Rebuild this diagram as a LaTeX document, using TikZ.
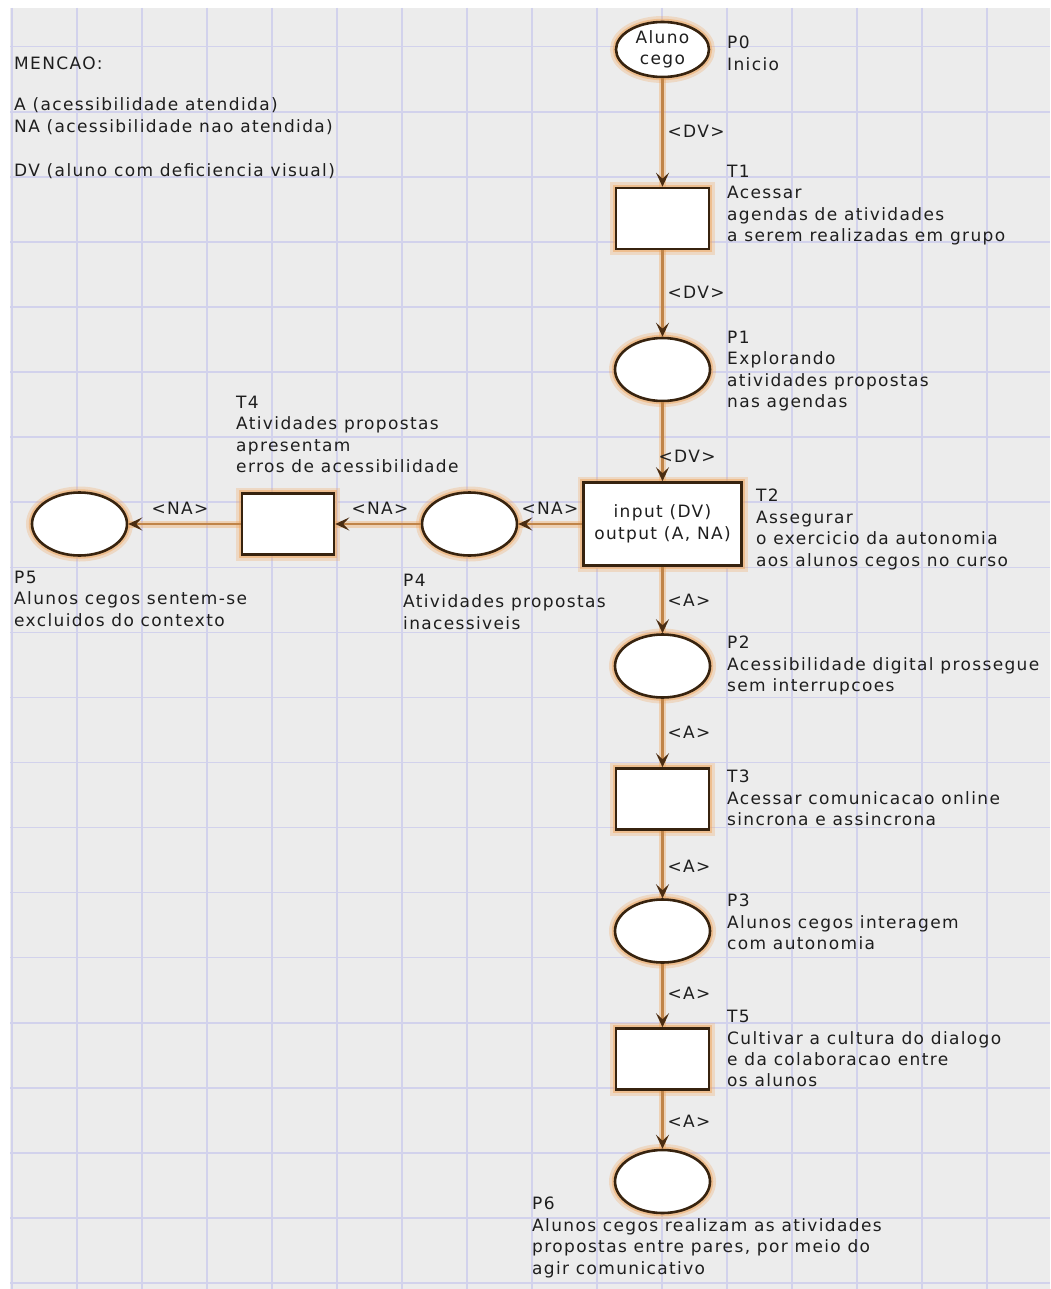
\documentclass[tikz,border=0pt]{standalone}
\usepackage{fontspec}
\setmainfont{DejaVu Sans}[LetterSpace=8]
\usetikzlibrary{arrows.meta,shapes.geometric}
\definecolor{bgc}{RGB}{236,236,236}
\definecolor{gridc}{RGB}{210,210,236}
\definecolor{glowc}{RGB}{240,160,80}
\definecolor{arcc}{RGB}{192,132,72}
\definecolor{tipc}{RGB}{75,45,18}
\definecolor{borderc}{RGB}{55,35,15}
\definecolor{txtc}{RGB}{30,30,30}
\begin{document}
\begin{tikzpicture}[x=1pt,y=-1pt,
  every node/.style={font=\fontsize{17}{21.4}\selectfont, text=txtc},
  gridline/.style={draw=gridc, line width=1.5pt},
  halo/.style={preaction={draw=glowc, line width=12pt, opacity=0.25},
               preaction={draw=glowc, line width=6.5pt, opacity=0.45}},
  place/.style={ellipse, draw=borderc, line width=2.6pt, fill=white,
                minimum width=95pt, minimum height=63pt, inner sep=0pt, align=center, halo},
  trans/.style={rectangle, draw=borderc, line width=2.6pt, fill=white,
                minimum width=93pt, minimum height=61pt, inner sep=0pt, align=center, halo},
  arc/.style={draw=arcc, line width=2.8pt,
              preaction={draw=glowc, line width=7pt, opacity=0.35, arrows=-},
              -{Stealth[length=14pt,width=13pt,inset=6pt,color=tipc]}},
  arclabel/.style={inner sep=0pt},
  lbl/.style={anchor=north west, align=left, inner sep=0pt},
  legend/.style={anchor=base west, inner sep=0pt},
]
\useasboundingbox (0,0) rectangle (1050,1289);
\fill[white] (0,0) rectangle (1050,1289);
\fill[bgc] (10,8) rectangle (1050,1289);
\foreach \i in {0,...,15} \draw[gridline] ({12+65*\i},8) -- ({12+65*\i},1289);
\foreach \j in {0,...,19} \draw[gridline] (10,{46.7+65.07*\j}) -- (1050,{46.7+65.07*\j});

% nodes
\node[place, minimum width=93pt, minimum height=55pt] (P0) at (662.5,49.5) {Aluno\\cego};
\node[trans] (T1) at (662.5,218.5) {};
\node[place] (P1) at (662.5,369.5) {};
\node[trans, minimum width=158pt, minimum height=83pt] (T2) at (662.5,524) {input (DV)\\output (A, NA)};
\node[place] (P2) at (662.5,666) {};
\node[trans] (T3) at (662.5,799) {};
\node[place] (P3) at (662.5,931) {};
\node[trans] (T5) at (662.5,1059) {};
\node[place] (P6) at (662.5,1181.5) {};
\node[place] (P4) at (469.5,524) {};
\node[trans, minimum width=92pt] (T4) at (288,524) {};
\node[place] (P5) at (79.5,524) {};

% arcs
\draw[arc] (P0) -- (T1);
\draw[arc] (T1) -- (P1);
\draw[arc] (P1) -- (T2);
\draw[arc] (T2) -- (P2);
\draw[arc] (P2) -- (T3);
\draw[arc] (T3) -- (P3);
\draw[arc] (P3) -- (T5);
\draw[arc] (T5) -- (P6);
\draw[arc] (T2) -- (P4);
\draw[arc] (P4) -- (T4);
\draw[arc] (T4) -- (P5);

% arc labels
\node[arclabel] (a1) at (696,131.5) {<DV>};
\node[arclabel] (a2) at (696,292.5) {<DV>};
\node[arclabel] (a3) at (687,456) {<DV>};
\node[arclabel] (a4) at (689,600) {<A>};
\node[arclabel] (a5) at (689,732) {<A>};
\node[arclabel] (a6) at (689,866) {<A>};
\node[arclabel] (a7) at (689,993) {<A>};
\node[arclabel] (a8) at (689,1121) {<A>};
\node[arclabel] (a9) at (550,508) {<NA>};
\node[arclabel] (a10) at (380,508) {<NA>};
\node[arclabel] (a11) at (180,508) {<NA>};

% node labels
\node[lbl] (lP0) at (727,36) {P0\\Inicio};
\node[lbl] (lT1) at (727,165) {T1\\Acessar\\agendas de atividades\\a serem realizadas em grupo};
\node[lbl] (lP1) at (727,331) {P1\\Explorando\\atividades propostas\\nas agendas};
\node[lbl] (lT2) at (756,489) {T2\\Assegurar\\o exercicio da autonomia\\aos alunos cegos no curso};
\node[lbl] (lT4) at (236,396) {T4\\Atividades propostas\\apresentam\\erros de acessibilidade};
\node[lbl] (lP5) at (14,571) {P5\\Alunos cegos sentem-se\\excluidos do contexto};
\node[lbl] (lP4) at (403,574) {P4\\Atividades propostas\\inacessiveis};
\node[lbl] (lP2) at (727,636) {P2\\Acessibilidade digital prossegue\\sem interrupcoes};
\node[lbl] (lT3) at (727,770) {T3\\Acessar comunicacao online\\sincrona e assincrona};
\node[lbl] (lP3) at (727,894) {P3\\Alunos cegos interagem\\com autonomia};
\node[lbl] (lT5) at (727,1010) {T5\\Cultivar a cultura do dialogo\\e da colaboracao entre\\os alunos};
\node[lbl] (lP6) at (532,1197) {P6\\Alunos cegos realizam as atividades\\propostas entre pares, por meio do\\agir comunicativo};

% legend
\node[legend] (g1) at (14,70) {MENCAO:};
\node[legend] (g2) at (14,111) {A (acessibilidade atendida)};
\node[legend] (g3) at (14,133) {NA (acessibilidade nao atendida)};
\node[legend] (g4) at (14,177) {DV (aluno com deficiencia visual)};
\end{tikzpicture}
\end{document}
